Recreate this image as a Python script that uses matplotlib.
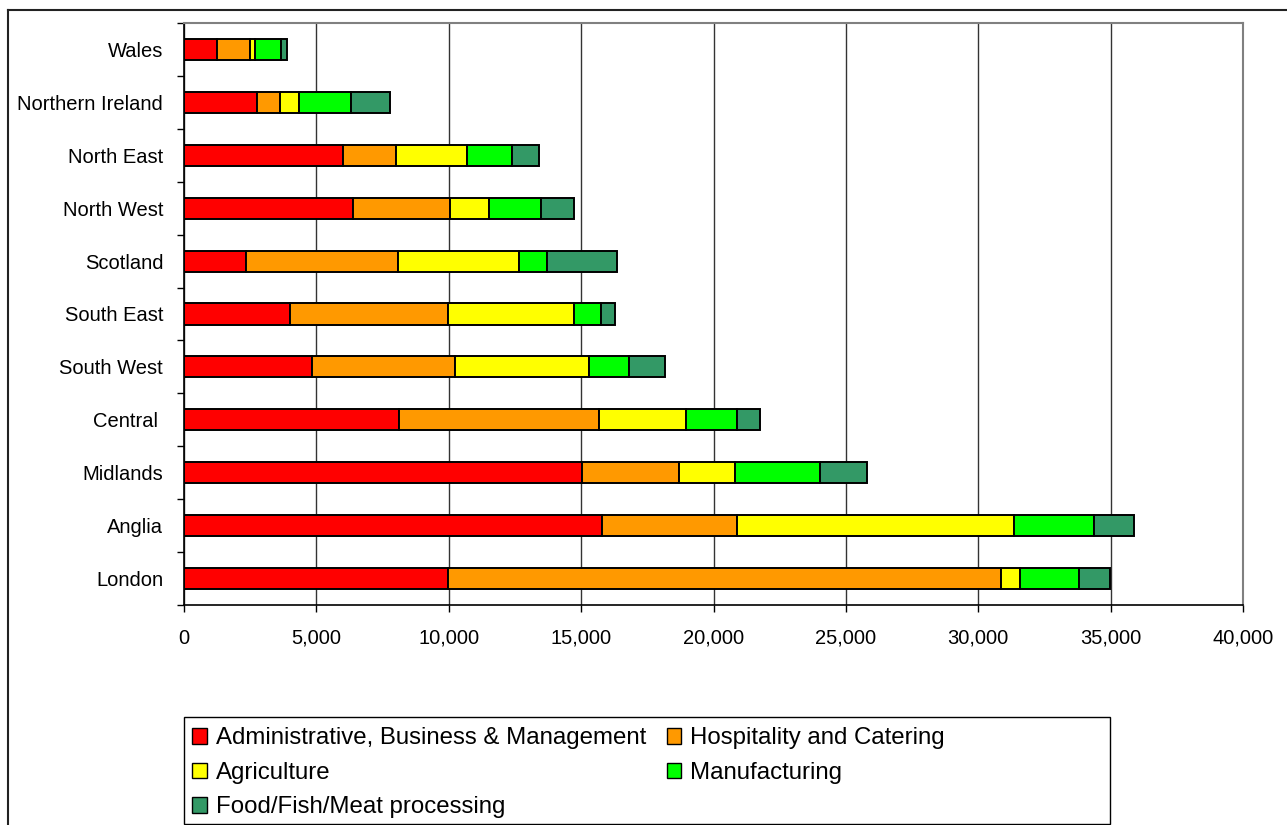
import numpy as np
import matplotlib
matplotlib.use("Agg")
import matplotlib.pyplot as plt
from matplotlib.ticker import FuncFormatter, MultipleLocator
from matplotlib.patches import Patch, Rectangle
from matplotlib.lines import Line2D

plt.rcParams['font.family'] = ['Liberation Sans', 'DejaVu Sans']

# regions, bottom to top
regions = ['London', 'Anglia', 'Midlands', 'Central ', 'South West', 'South East',
           'Scotland', 'North West', 'North East', 'Northern Ireland', 'Wales']

admin = [9975, 15790, 15030, 8125, 4850, 4010, 2360, 6400, 6010, 2755, 1245]
hospitality = [20870, 5090, 3680, 7565, 5390, 5975, 5715, 3650, 2000, 880, 1255]
agriculture = [735, 10470, 2110, 3280, 5060, 4755, 4580, 1460, 2670, 705, 200]
manufacturing = [2240, 3035, 3190, 1920, 1520, 1020, 1055, 1975, 1710, 1975, 970]
food = [1140, 1485, 1775, 880, 1360, 515, 2655, 1245, 1030, 1460, 215]

series = ['Administrative, Business & Management', 'Hospitality and Catering',
          'Agriculture', 'Manufacturing', 'Food/Fish/Meat processing']
colors = ['#FF0000', '#FF9900', '#FFFF00', '#00FF00', '#339966']
values = [admin, hospitality, agriculture, manufacturing, food]

fig = plt.figure(figsize=(12.87, 8.25), dpi=100)
ax = fig.add_axes([184/1287, 1-605/825, (1243-184)/1287, (605-23)/825])

y = np.arange(len(regions))
left = np.zeros(len(regions))
for name, col, vals in zip(series, colors, values):
    ax.barh(y, vals, left=left, height=0.4, color=col, edgecolor='black',
            linewidth=1.4, label=name, zorder=3)
    left += np.array(vals)

ax.set_xlim(0, 40000)
ax.set_ylim(-0.5, len(regions) - 0.5)
ax.xaxis.set_major_locator(MultipleLocator(5000))
ax.xaxis.set_major_formatter(FuncFormatter(lambda v, p: f'{int(v):,}'))
ax.grid(axis='x', color='#333333', linewidth=1.0, zorder=0)

ax.set_yticks(y)
ax.set_yticklabels(regions)
ax.set_yticks(np.arange(-0.5, len(regions), 1.0), minor=True)
ax.tick_params(axis='y', which='major', length=0, pad=15, labelsize=14.5)
ax.tick_params(axis='y', which='minor', length=5, width=1, color='black', direction='out')
ax.tick_params(axis='x', length=5, width=1, direction='out', pad=12, labelsize=14.5)

for s in ['top', 'right']:
    ax.spines[s].set_color('#808080')
    ax.spines[s].set_linewidth(1.5)
for s in ['left', 'bottom']:
    ax.spines[s].set_color('black')
    ax.spines[s].set_linewidth(1.2)

# outer chart border (left and top only are visible)
fig.add_artist(Line2D([8/1287, 8/1287], [-0.01, 1-10/825], transform=fig.transFigure,
                      color='#222222', linewidth=1.5))
fig.add_artist(Line2D([8/1287, 1.01], [1-10/825, 1-10/825], transform=fig.transFigure,
                      color='#222222', linewidth=1.5))

# legend box
fig.add_artist(Rectangle((184/1287, 1-824/825), (1110-184)/1287, (824-717)/825,
                         transform=fig.transFigure, facecolor='white',
                         edgecolor='black', linewidth=1.0))
handles = [Patch(facecolor=c, edgecolor='black', linewidth=1.0, label=n)
           for n, c in zip(series, colors)]
order = [0, 2, 4, 1, 3]
leg = fig.legend([handles[i] for i in order], [series[i] for i in order],
                 loc='upper left', bbox_to_anchor=(190/1287, 1-725/825), ncol=2,
                 frameon=False, fontsize=17.3, handlelength=0.6, handleheight=0.6,
                 handletextpad=0.38, columnspacing=0.85, labelspacing=0.52,
                 borderpad=0.1, borderaxespad=0)

fig.savefig('out.png', dpi=100)
